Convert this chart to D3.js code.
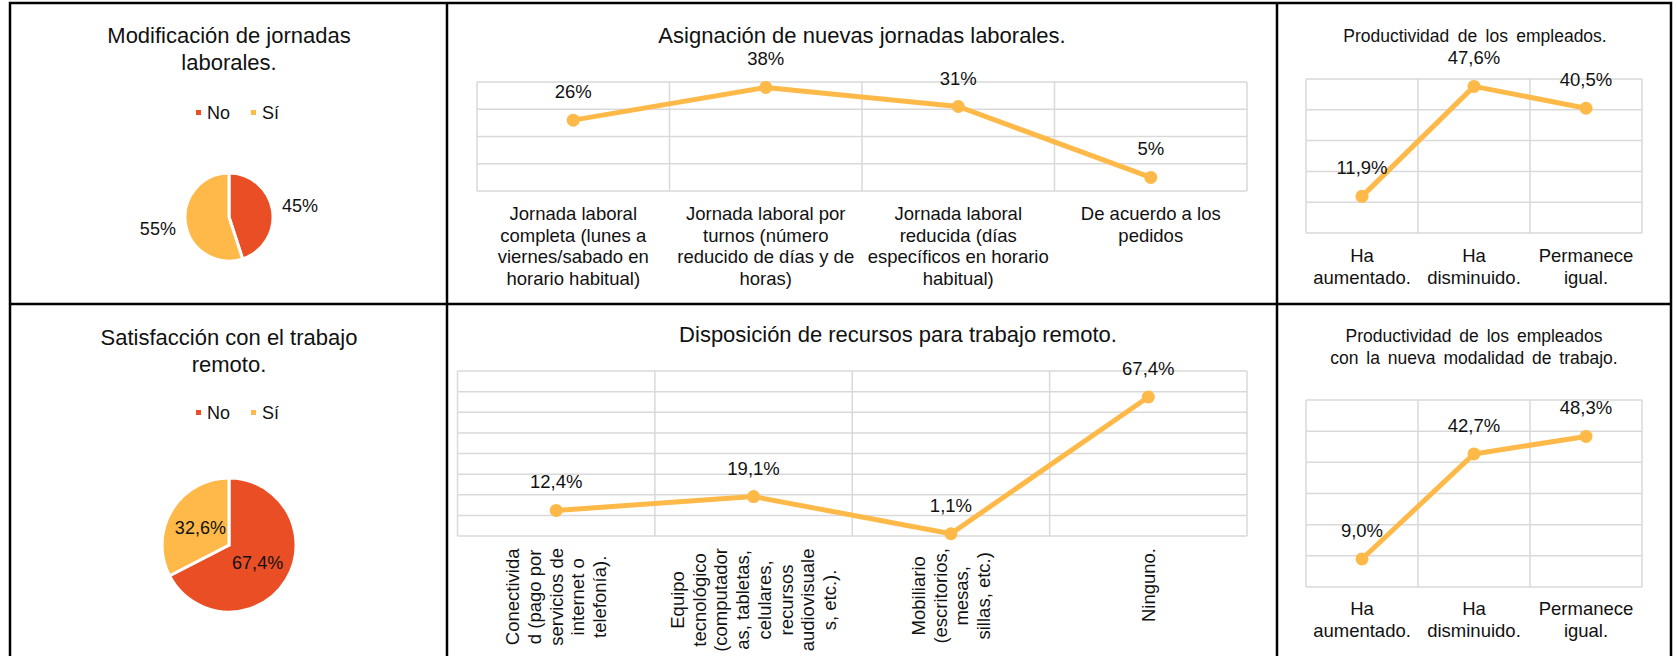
<!DOCTYPE html>
<html>
<head>
<meta charset="utf-8">
<script src="https://cdn.jsdelivr.net/npm/d3@7"></script>
<style>
  body { margin: 0; background: #fff; }
  text { font-family: "Liberation Sans", Arial, sans-serif; fill: #111; }
</style>
</head>
<body>
<svg id="chart" width="1677" height="656"></svg>
<script>
// datos
const pieCats = ["No", "Sí"];
const modificacionVals = [45, 55];
const satisfaccionVals = [67.4, 32.6];

const asignacionCats = [
  ["Jornada laboral", "completa (lunes a", "viernes/sabado en", "horario habitual)"],
  ["Jornada laboral por", "turnos (número", "reducido de días y de", "horas)"],
  ["Jornada laboral", "reducida (días", "específicos en horario", "habitual)"],
  ["De acuerdo a los", "pedidos"]
];
const asignacionVals = [26, 38, 31, 5];

const productividadCats = [["Ha", "aumentado."], ["Ha", "disminuido."], ["Permanece", "igual."]];
const productividadVals = [11.9, 47.6, 40.5];
const productividadNuevaVals = [9.0, 42.7, 48.3];

const recursosCats = [
  ["Conectivida", "d (pago por", "servicios de", "internet o", "telefonía)."],
  ["Equipo", "tecnológico", "(computador", "as, tabletas,", "celulares,", "recursos", "audiovisuale", "s, etc.)."],
  ["Mobiliario", "(escritorios,", "mesas,", "sillas, etc.)"],
  ["Ninguno."]
];
const recursosVals = [12.4, 19.1, 1.1, 67.4];

const RED = "#E94E24";
const YELLOW = "#FEB948";
const GRID = "#D9D9D9";

const svg = d3.select("#chart");
const loc = d3.formatLocale({decimal: ",", thousands: ".", grouping: [3], currency: ["", ""]});
const pctInt = v => d3.format(".0f")(v) + "%";
const pctDec = v => loc.format(".1f")(v) + "%";

// bordes de la tabla
const colX = [10, 447, 1277, 1671];
const rowY = [3, 304, 660];
svg.append("rect")
  .attr("x", colX[0]).attr("y", rowY[0])
  .attr("width", colX[3] - colX[0]).attr("height", rowY[2] - rowY[0])
  .attr("fill", "none").attr("stroke", "#000").attr("stroke-width", 2.5);
[colX[1], colX[2]].forEach(x => {
  svg.append("line").attr("x1", x).attr("x2", x).attr("y1", rowY[0]).attr("y2", rowY[2])
    .attr("stroke", "#000").attr("stroke-width", 2.5);
});
svg.append("line").attr("x1", colX[0]).attr("x2", colX[3]).attr("y1", rowY[1]).attr("y2", rowY[1])
  .attr("stroke", "#000").attr("stroke-width", 2.5);

function title(lines, cx, y0, size, lh, ws) {
  const t = svg.append("text")
    .attr("text-anchor", "middle")
    .attr("font-size", size)
    .style("word-spacing", (ws || 0) + "px");
  lines.forEach((l, i) => {
    t.append("tspan").attr("x", cx).attr("y", y0 + i * lh).text(l);
  });
}

function pieChart(props) {
  const { vals, cx, cy, r, legendY, inside, fmt } = props;
  const color = d3.scaleOrdinal().domain(pieCats).range([RED, YELLOW]);

  // leyenda
  const lg = svg.append("g");
  let x = cx - 33;
  pieCats.forEach(c => {
    lg.append("rect").attr("x", x).attr("y", legendY - 9).attr("width", 5).attr("height", 5)
      .attr("fill", color(c));
    const t = lg.append("text").attr("x", x + 11).attr("y", legendY).attr("font-size", 18).text(c);
    x += 11 + t.node().getComputedTextLength() + 21;
  });

  const pie = d3.pie().sort(null).value(d => d.v);
  const arcs = pie(vals.map((v, i) => ({ c: pieCats[i], v })));
  const arc = d3.arc().innerRadius(0).outerRadius(r);
  const g = svg.append("g").attr("transform", `translate(${cx},${cy})`);
  g.selectAll("path").data(arcs).join("path")
    .attr("d", arc)
    .attr("fill", d => color(d.data.c))
    .attr("stroke", "#fff").attr("stroke-width", 3).attr("stroke-linejoin", "miter");

  const lr = inside ? r * 0.5 : r + 28;
  const labelArc = d3.arc().innerRadius(lr).outerRadius(lr);
  g.selectAll("text.lbl").data(arcs).join("text")
    .attr("class", "lbl")
    .attr("transform", d => `translate(${labelArc.centroid(d)})`)
    .attr("text-anchor", "middle")
    .attr("dy", "0.35em")
    .attr("font-size", 18)
    .text(d => fmt(d.data.v));
}

function lineChart(props) {
  const { cats, vals, left, right, top, bottom, yMax, fmt, rotated, xLabelY } = props;
  const ids = cats.map((c, i) => i);
  const x = d3.scaleBand().domain(ids).range([left, right]).padding(0);
  const y = d3.scaleLinear().domain([0, yMax]).range([bottom, top]);
  const g = svg.append("g");

  // cuadricula
  g.selectAll("line.h").data(d3.range(0, yMax + 0.001, 10)).join("line")
    .attr("x1", left).attr("x2", right)
    .attr("y1", d => y(d)).attr("y2", d => y(d))
    .attr("stroke", GRID).attr("stroke-width", 1.5);
  g.selectAll("line.v").data(ids.map(i => x(i)).concat([right])).join("line")
    .attr("x1", d => d).attr("x2", d => d)
    .attr("y1", top).attr("y2", bottom)
    .attr("stroke", GRID).attr("stroke-width", 1.5);

  const cx = i => x(i) + x.bandwidth() / 2;
  const line = d3.line().x((d, i) => cx(i)).y(d => y(d));
  g.append("path").datum(vals)
    .attr("d", line)
    .attr("fill", "none").attr("stroke", YELLOW).attr("stroke-width", 5)
    .attr("stroke-linejoin", "round").attr("stroke-linecap", "round");
  g.selectAll("circle").data(vals).join("circle")
    .attr("cx", (d, i) => cx(i)).attr("cy", d => y(d)).attr("r", 6.5)
    .attr("fill", YELLOW);
  g.selectAll("text.val").data(vals).join("text")
    .attr("class", "val")
    .attr("x", (d, i) => cx(i)).attr("y", d => y(d) - 22)
    .attr("text-anchor", "middle").attr("font-size", 18.5)
    .text(d => fmt(d));

  const lh = 21.7;
  if (!rotated) {
    cats.forEach((lines, i) => {
      const t = g.append("text").attr("text-anchor", "middle").attr("font-size", 18.5);
      lines.forEach((l, j) => {
        t.append("tspan").attr("x", cx(i)).attr("y", xLabelY + j * lh).text(l);
      });
    });
  } else {
    const topY = bottom + 12;
    cats.forEach((lines, i) => {
      const tg = g.append("g");
      const texts = lines.map(l => tg.append("text").attr("font-size", 18.5)
        .attr("text-anchor", "middle").attr("dy", "0.35em").text(l));
      const w = d3.max(texts, t => t.node().getComputedTextLength());
      texts.forEach((t, j) => {
        const colX = cx(i) + (j - (lines.length - 1) / 2) * lh;
        t.attr("transform", `translate(${colX},${topY + w / 2}) rotate(-90)`);
      });
    });
  }
}

// fila superior
title(["Modificación de jornadas", "laborales."], 229, 43, 22, 27);
pieChart({ vals: modificacionVals, cx: 229, cy: 217, r: 44, legendY: 119, inside: false, fmt: pctInt });

title(["Asignación de nuevas jornadas laborales."], 862, 43, 22, 27);
lineChart({ cats: asignacionCats, vals: asignacionVals, left: 477, right: 1247, top: 82, bottom: 191,
  yMax: 40, fmt: pctInt, rotated: false, xLabelY: 220 });

title(["Productividad de los empleados."], 1475, 42, 17.5, 22, 3.5);
lineChart({ cats: productividadCats, vals: productividadVals, left: 1306, right: 1642, top: 79, bottom: 233,
  yMax: 50, fmt: pctDec, rotated: false, xLabelY: 262 });

// fila inferior
title(["Satisfacción con el trabajo", "remoto."], 229, 345, 22, 27);
pieChart({ vals: satisfaccionVals, cx: 229, cy: 545, r: 67, legendY: 419, inside: true, fmt: pctDec });

title(["Disposición de recursos para trabajo remoto."], 898, 342, 22, 27);
lineChart({ cats: recursosCats, vals: recursosVals, left: 457.5, right: 1247, top: 371, bottom: 536,
  yMax: 80, fmt: pctDec, rotated: true });

title(["Productividad de los empleados", "con la nueva modalidad de trabajo."], 1474, 342, 17.5, 22, 3);
lineChart({ cats: productividadCats, vals: productividadNuevaVals, left: 1306, right: 1642, top: 400, bottom: 587,
  yMax: 60, fmt: pctDec, rotated: false, xLabelY: 615 });
</script>
</body>
</html>
